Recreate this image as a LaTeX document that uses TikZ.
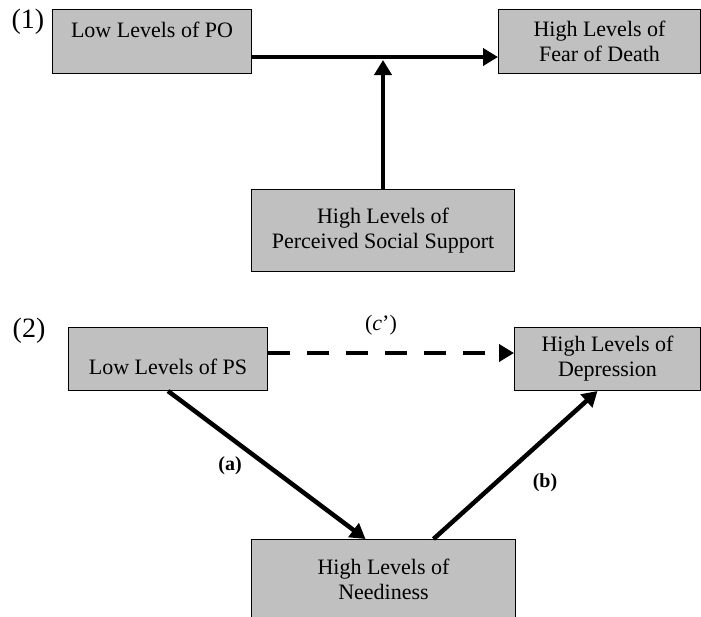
\documentclass[tikz,border=0pt]{standalone}
\usepackage{fontspec}
\setmainfont{Liberation Serif}
\usetikzlibrary{
arrows.meta,
calc
}
\definecolor{boxgray}{HTML}{C0C0C0}

\begin{document}
\begin{tikzpicture}[
      x = 1pt,
      y = -1pt,
      factor/.style = {
        draw = black,
        line width = 1pt,
        fill = boxgray,
        anchor = north west,
        inner sep = 0pt,
        align = center,
        font = \fontsize{22}{25}\selectfont,
      },
      tag/.style = {
        inner sep = 0pt,
        font = \fontsize{28}{30}\selectfont,
      },
      coef/.style = {
        inner sep = 0pt,
        font = \fontsize{22}{25}\selectfont,
      },
      path tag/.style = {
        inner sep = 0pt,
        font = \fontsize{20}{24}\selectfont\bfseries,
      },
      link/.style = {
        line width = 4.5pt,
        -{Triangle[length=15pt, width=17pt]},
      },
      ]
      \useasboundingbox (0,0) rectangle (701,616);

      % (1) moderation
      \node [factor, minimum width=199pt, minimum height=64pt,
             text height=28pt, text depth=36pt] (po) at (52,9)
      {Low Levels of PO};
      \node [factor, minimum width=202pt, minimum height=64pt] (fear) at (498,9)
      {High Levels of\\Fear of Death};
      \node [factor, minimum width=263pt, minimum height=82pt] (support) at (251,189)
      {High Levels of\\Perceived Social Support};
      \node [tag] (tag-one) at (28,22) {(1)};
      \coordinate (junction) at (383,57);

      \draw [link] (po.east |- junction) -- (fear.west |- junction);
      \draw [link] (support.north -| junction) -- ([yshift=-3pt]junction);

      % (2) mediation
      \node [factor, minimum width=199pt, minimum height=63pt,
             text height=47pt, text depth=16pt] (ps) at (68,327)
      {Low Levels of PS};
      \node [factor, minimum width=186pt, minimum height=63pt] (depression) at (514,327)
      {High Levels of\\Depression};
      \node [factor, minimum width=264pt, minimum height=80pt] (neediness) at (251,539)
      {High Levels of\\Neediness};
      \node [tag] (tag-two) at (29,331) {(2)};
      \coordinate (direct) at (0,353);

      \draw [link, dash pattern=on 22pt off 17pt]
      (ps.east |- direct) -- (depression.west |- direct);
      \draw [link] (ps.south) -- ([xshift=-18pt]neediness.north);
      \draw [link] ([xshift=50pt]neediness.north) -- ([xshift=-10pt]depression.south);

      \node [coef] (path-c) at (381,325) {(\textit{c}')};
      \node [path tag] (path-a) at (230,466) {(a)};
      \node [path tag] (path-b) at (545,483) {(b)};
    \end{tikzpicture}
\end{document}
